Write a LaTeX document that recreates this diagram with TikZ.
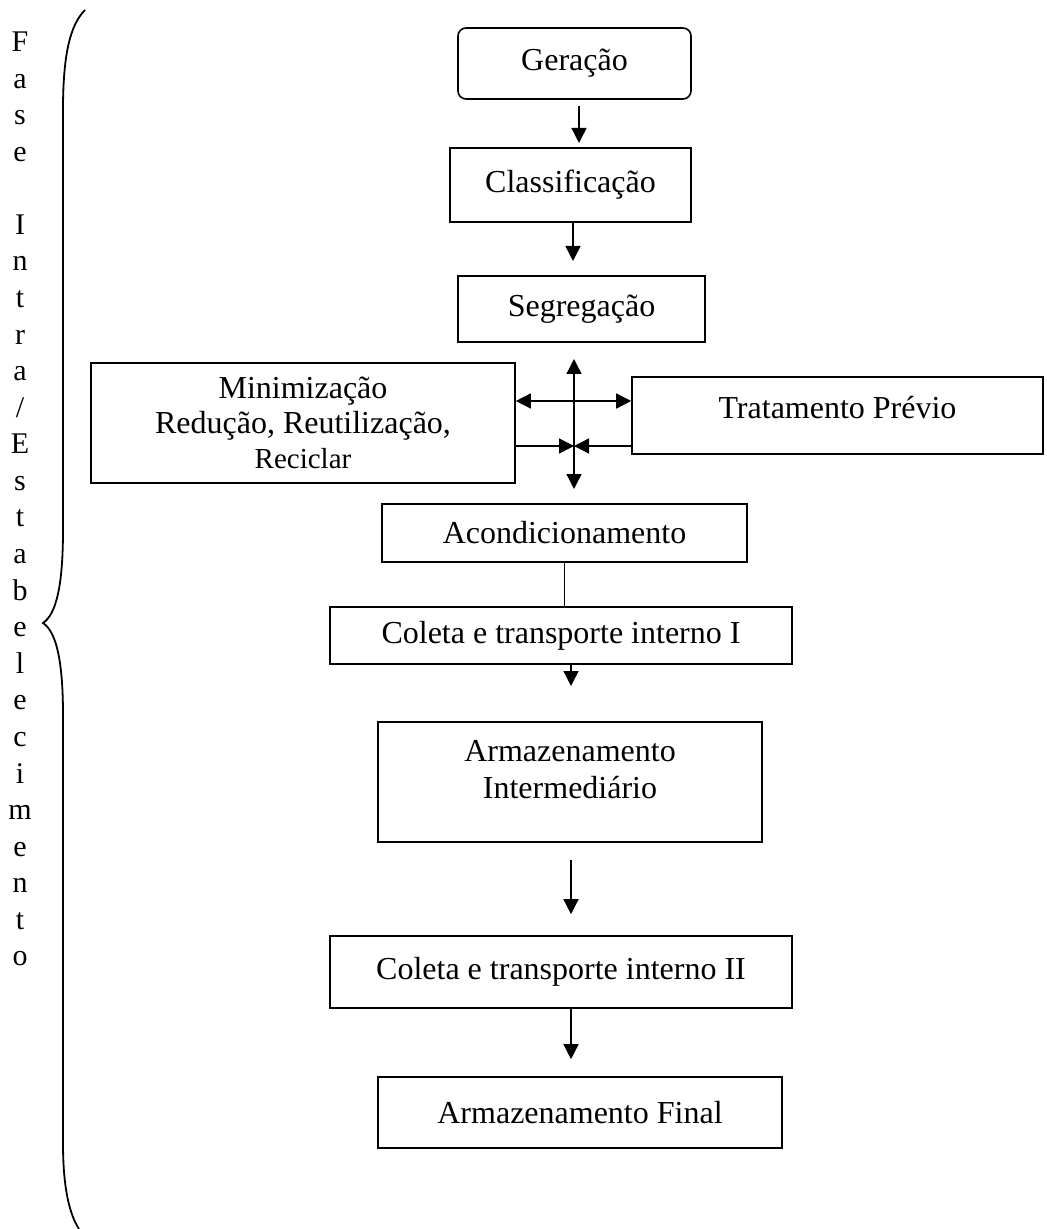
\documentclass[tikz,border=0pt]{standalone}
\usepackage{fontspec}
\setmainfont{Liberation Serif}
\usetikzlibrary{arrows.meta, positioning}

\newcommand{\px}{0.5pt}

\begin{document}
\begin{tikzpicture}[
    x=0.5pt, y=-0.5pt,
    >={Triangle[length=7.5pt, width=7.5pt]},
    box/.style={draw, line width=0.8pt, inner sep=0pt, align=center,
        font=\fontsize{16pt}{17.5pt}\selectfont},
    boxsize/.style 2 args={minimum width=#1*\px, minimum height=#2*\px},
    flow/.style={line width=0.7pt}
]
    \useasboundingbox (0,0) rectangle (1046,1229);

    % caixas do fluxo
    \node[box, boxsize={233}{71}, rounded corners=4pt] (gera) at (574.5,63.5) {Geração};
    \node[box, boxsize={241}{74}] (clas) at (570.5,185) {Classificação};
    \node[box, boxsize={247}{66}] (segr) at (581.5,309) {Segregação};
    \node[box, boxsize={424}{120}] (mini) at (303,423)
        {Minimização\\Redução, Reutilização,\\{\fontsize{14.5pt}{17.5pt}\selectfont Reciclar}};
    \node[box, boxsize={411}{77}, text depth=8.5pt] (trat) at (837.5,415.5) {Tratamento Prévio};
    \node[box, boxsize={365}{58}] (acon) at (564.5,533) {Acondicionamento};
    \node[box, boxsize={462}{57}] (col1) at (561,635.5) {Coleta e transporte interno I};
    \node[box, boxsize={384}{120}, font=\fontsize{16pt}{18.5pt}\selectfont, text depth=13pt] (armi) at (570,782)
        {Armazenamento\\Intermediário};
    \node[box, boxsize={462}{72}] (col2) at (561,972) {Coleta e transporte interno II};
    \node[box, boxsize={404}{71}] (armf) at (580,1112.5) {Armazenamento Final};

    % texto vertical e chave
    \node[inner sep=0pt, align=center, font=\fontsize{15pt}{18.29pt}\selectfont] (fase) at (20,499)
        {F\\a\\s\\e\\\mbox{}\\I\\n\\t\\r\\a\\/\\E\\s\\t\\a\\b\\e\\l\\e\\c\\i\\m\\e\\n\\t\\o};
    \draw[line width=0.9pt] (85,10) .. controls (70,25) and (63,55) .. (63,110)
        -- (63,530) .. controls (63,590) and (55,615) .. (43,623)
        .. controls (55,631) and (63,656) .. (63,715)
        -- (63,1143) .. controls (63,1190) and (70,1215) .. (79,1229);

    % pontos livres
    \coordinate (a1) at (579,143);
    \coordinate (a2) at (573,261);
    \coordinate (vtop) at (574,359);
    \coordinate (vbot) at (574,489);
    \coordinate (hup) at (574,401);
    \coordinate (hlo) at (574,446);
    \coordinate (c1end) at (571,686);

    % conectores
    \draw[->, flow, shorten <=3pt] (gera.south -| a1) -- (a1);
    \draw[->, flow] (clas.south -| a2) -- (a2);
    \draw[<->, flow] (vtop) -- (vbot);
    \draw[<->, flow] (mini.east |- hup) -- (trat.west |- hup);
    \draw[->, flow] (mini.east |- hlo) -- (hlo);
    \draw[->, flow] (trat.west |- hlo) -- (hlo);
    \draw[flow] (acon.south) -- (acon.south |- col1.north);
    \draw[->, flow] (col1.south -| c1end) -- (c1end);
    \draw[->, flow, shorten <=8.5pt, shorten >=10.5pt] ([xshift=0.5pt]armi.south) -- ([xshift=0.5pt]armi.south |- col2.north);
    \draw[->, flow, shorten >=8.5pt] ([xshift=5pt]col2.south) -- ([xshift=5pt]col2.south |- armf.north);
\end{tikzpicture}
\end{document}
